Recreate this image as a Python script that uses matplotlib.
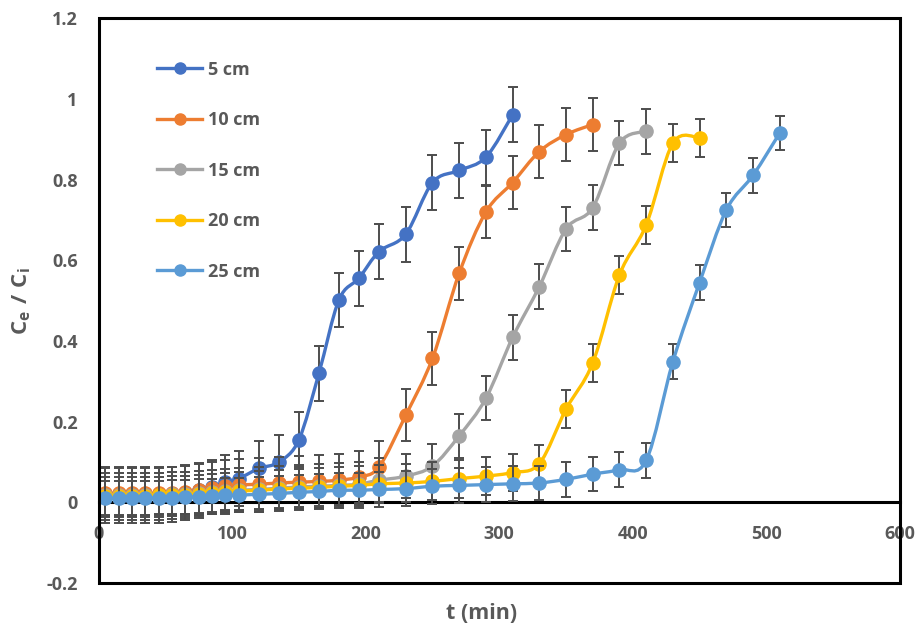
import numpy as np
import matplotlib
matplotlib.use('Agg')
import matplotlib.pyplot as plt
from matplotlib.path import Path
from matplotlib.patches import PathPatch, Rectangle
from matplotlib.lines import Line2D

plt.rcParams['font.family'] = ['Open Sans', 'DejaVu Sans']
plt.rcParams['mathtext.fontset'] = 'custom'
plt.rcParams['mathtext.bf'] = 'Open Sans:bold'
plt.rcParams['mathtext.rm'] = 'Open Sans:bold'
plt.rcParams['mathtext.it'] = 'Open Sans:bold'

# ---------------- data ----------------
time_min = [5, 15, 25, 35, 45, 55, 65, 75, 85, 95, 105, 120, 135, 150, 165, 180,
            195, 210, 230, 250, 270, 290, 310, 330, 350, 370, 390, 410, 430, 450,
            470, 490, 510]

series_labels = ['5 cm', '10 cm', '15 cm', '20 cm', '25 cm']

ce_ci_5cm = [0.017, 0.017, 0.017, 0.018, 0.018, 0.019, 0.024, 0.030, 0.038, 0.050,
             0.059, 0.084, 0.100, 0.155, 0.320, 0.502, 0.556, 0.622, 0.665, 0.793,
             0.823, 0.856, 0.961]
ce_ci_10cm = [0.022, 0.022, 0.022, 0.022, 0.022, 0.023, 0.025, 0.030, 0.035, 0.040,
              0.043, 0.045, 0.048, 0.050, 0.052, 0.055, 0.063, 0.088, 0.216, 0.357,
              0.568, 0.720, 0.793, 0.870, 0.912, 0.937]
ce_ci_15cm = [0.018, 0.018, 0.018, 0.018, 0.019, 0.020, 0.021, 0.023, 0.025, 0.027,
              0.030, 0.032, 0.035, 0.038, 0.040, 0.042, 0.045, 0.055, 0.065, 0.090,
              0.165, 0.258, 0.409, 0.535, 0.678, 0.731, 0.891, 0.920]
ce_ci_20cm = [0.016, 0.016, 0.016, 0.016, 0.017, 0.018, 0.019, 0.021, 0.023, 0.025,
              0.028, 0.030, 0.033, 0.035, 0.037, 0.040, 0.042, 0.046, 0.048, 0.052,
              0.059, 0.065, 0.074, 0.096, 0.231, 0.346, 0.564, 0.688, 0.891, 0.904]
ce_ci_25cm = [0.010, 0.010, 0.010, 0.011, 0.011, 0.012, 0.013, 0.014, 0.015, 0.017,
              0.018, 0.020, 0.022, 0.025, 0.027, 0.030, 0.030, 0.032, 0.034, 0.040,
              0.042, 0.044, 0.046, 0.048, 0.057, 0.070, 0.081, 0.104, 0.349, 0.545,
              0.725, 0.811, 0.916]

error_5cm = 0.068
error_10cm = 0.065
error_15cm = 0.055
error_20cm = 0.047
error_25cm = 0.043

x_ticks = [0, 100, 200, 300, 400, 500, 600]
y_ticks = [-0.2, 0, 0.2, 0.4, 0.6, 0.8, 1, 1.2]
y_tick_labels = ['-0.2', '0', '0.2', '0.4', '0.6', '0.8', '1', '1.2']

# ---------------- style ----------------
colors = ['#4472C4', '#ED7D31', '#A5A5A5', '#FFC000', '#5B9BD5']
err_color = '#4d4d4d'
text_color = '#595959'


def smooth_path(xs, ys):
    pts = np.column_stack([xs, ys]).astype(float)
    n = len(pts)
    verts = [tuple(pts[0])]
    codes = [Path.MOVETO]
    for i in range(n - 1):
        p0 = pts[max(i - 1, 0)]
        p1 = pts[i]
        p2 = pts[i + 1]
        p3 = pts[min(i + 2, n - 1)]
        c1 = p1 + (p2 - p0) / 6.0
        c2 = p2 - (p3 - p1) / 6.0
        verts += [tuple(c1), tuple(c2), tuple(p2)]
        codes += [Path.CURVE4] * 3
    return Path(verts, codes)


fig = plt.figure(figsize=(9.19, 6.26), dpi=100)
ax = fig.add_axes([0.1072, 0.0687, 0.8721, 0.9018])

all_series = [ce_ci_5cm, ce_ci_10cm, ce_ci_15cm, ce_ci_20cm, ce_ci_25cm]
all_errors = [error_5cm, error_10cm, error_15cm, error_20cm, error_25cm]

handles = []
for i, (ys, err, col, lab) in enumerate(zip(all_series, all_errors, colors, series_labels)):
    xs = time_min[:len(ys)]
    base = 3 + 3 * i
    ax.errorbar(xs, ys, yerr=err, fmt='none', ecolor=err_color, elinewidth=1.4,
                capsize=3.8, capthick=1.4, zorder=base)
    ax.add_patch(PathPatch(smooth_path(xs, ys), fill=False, edgecolor=col, lw=2.4,
                           zorder=base + 1, capstyle='round', joinstyle='round'))
    ax.plot(xs, ys, linestyle='none', marker='o', ms=9.5, color=col, zorder=base + 2)
    handles.append(Line2D([], [], color=col, lw=2.4, marker='o', ms=8, label=lab))

ax.set_xlim(0, 600)
ax.set_ylim(-0.2, 1.2)
ax.set_xticks(x_ticks)
ax.set_yticks(y_ticks)
ax.set_yticklabels(y_tick_labels)

for side in ['left', 'right', 'top']:
    ax.spines[side].set_visible(False)
ax.spines['bottom'].set_position(('data', 0))
ax.spines['bottom'].set_linewidth(2.2)
ax.spines['bottom'].set_color('black')
ax.spines['bottom'].set_zorder(2.5)

ax.add_patch(Rectangle((0, 0), 1, 1, transform=ax.transAxes, fill=False,
                       edgecolor='black', lw=2.2, clip_on=False, zorder=20))

ax.tick_params(axis='both', length=0, labelsize=13, labelcolor=text_color)
ax.tick_params(axis='x', pad=16)
ax.tick_params(axis='y', pad=15)
for lbl in ax.get_xticklabels() + ax.get_yticklabels():
    lbl.set_fontweight('bold')

ax.set_xlabel('t (min)', fontsize=15.5, fontweight='bold', color=text_color)
ax.xaxis.set_label_coords(0.478, -0.036)
ax.set_ylabel(r'$\mathbf{C_e\ /\ C_i}$', fontsize=16, color=text_color)
ax.yaxis.set_label_coords(-0.082, 0.5)

leg = ax.legend(handles=handles, loc='upper left', bbox_to_anchor=(0.073, 0.925),
                frameon=False, borderaxespad=0, borderpad=0, handlelength=2.5,
                handletextpad=0.3, labelspacing=1.8, prop={'size': 13, 'weight': 'bold'})
for t in leg.get_texts():
    t.set_color(text_color)

fig.savefig('out.png', dpi=100)
